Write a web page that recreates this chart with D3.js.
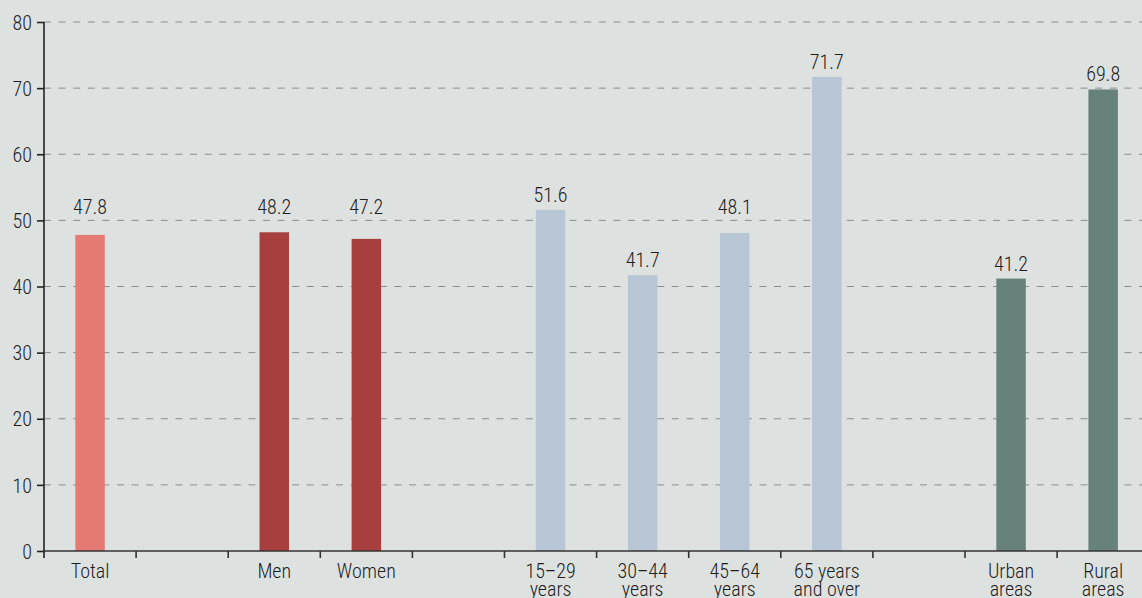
<!DOCTYPE html>
<html>
<head>
<meta charset="utf-8">
<script src="https://cdn.jsdelivr.net/npm/d3@7"></script>
<style>
  html, body { margin: 0; padding: 0; background: #dde1e0; }
  svg { display: block; }
  text { font-family: "Roboto Condensed", "Liberation Sans Narrow", "Arial Narrow", sans-serif; font-weight: 300; fill: #1e1e1e; }
</style>
</head>
<body>
<svg id="chart" width="1142" height="598"></svg>
<script>
// Slots along the x axis; empty strings are spacer slots between groups
const categories = ["Total", "", "Men", "Women", "", "15–29\nyears", "30–44\nyears", "45–64\nyears", "65 years\nand over", "", "Urban\nareas", "Rural\nareas"];
const values = [47.8, null, 48.2, 47.2, null, 51.6, 41.7, 48.1, 71.7, null, 41.2, 69.8];
const groups = ["total", null, "sex", "sex", null, "age", "age", "age", "age", null, "area", "area"];
const yTicks = [0, 10, 20, 30, 40, 50, 60, 70, 80];

const groupColor = { total: "#e57a73", sex: "#a83f3f", age: "#b8c5d5", area: "#67817b" };

const svg = d3.select("#chart");
const W = 1142;
const plotLeft = 44, plotTop = 22, plotBottom = 551;
const step = 92.1;
const fontSize = 20;

const x = d3.scaleBand()
  .domain(d3.range(categories.length))
  .range([plotLeft, plotLeft + step * categories.length])
  .paddingInner(0.68).paddingOuter(0.34);

const y = d3.scaleLinear().domain([0, 80]).range([plotBottom, plotTop]);

// dashed gridlines
svg.append("g").selectAll("line")
  .data(yTicks.filter(d => d > 0))
  .join("line")
  .attr("x1", plotLeft).attr("x2", W)
  .attr("y1", d => y(d)).attr("y2", d => y(d))
  .attr("stroke", "#8a8d8c").attr("stroke-width", 1)
  .attr("stroke-dasharray", "7,7.6");

// bars
const idx = d3.range(categories.length).filter(i => values[i] != null);
svg.append("g").selectAll("rect")
  .data(idx)
  .join("rect")
  .attr("x", i => x(i))
  .attr("width", x.bandwidth())
  .attr("y", i => y(values[i]))
  .attr("height", i => y(0) - y(values[i]))
  .attr("fill", i => groupColor[groups[i]]);

// value labels, lifted above any gridline they would otherwise cross
function labelBaseline(v) {
  let b = y(v) - 8;
  const topEdge = b - 15, botEdge = b + 2;
  for (const t of yTicks) {
    const gy = y(t);
    if (t > 0 && gy >= topEdge && gy <= botEdge) b = gy - 6;
  }
  return b;
}
svg.append("g").selectAll("text")
  .data(idx)
  .join("text")
  .attr("x", i => x(i) + x.bandwidth() / 2)
  .attr("y", i => labelBaseline(values[i]))
  .attr("text-anchor", "middle")
  .attr("font-size", fontSize)
  .text(i => values[i].toFixed(1));

// y axis
const yAxis = svg.append("g")
  .attr("transform", `translate(${plotLeft},0)`)
  .call(d3.axisLeft(y).tickValues(yTicks).tickSize(7).tickPadding(5).tickFormat(d3.format("d")));
yAxis.select(".domain").attr("d", `M0,${plotTop}V${plotBottom + 7}`).attr("stroke", "#222").attr("stroke-width", 1.6);
yAxis.selectAll(".tick line").attr("stroke", "#222").attr("stroke-width", 1.6);
yAxis.selectAll("text").attr("font-size", fontSize).attr("font-family", null).attr("dy", "0.36em").style("fill", "#1e1e1e");

// x axis: baseline plus separator ticks at slot boundaries
const xg = svg.append("g");
xg.append("line")
  .attr("x1", plotLeft).attr("x2", W)
  .attr("y1", plotBottom).attr("y2", plotBottom)
  .attr("stroke", "#333").attr("stroke-width", 1.6);
const bounds = d3.range(1, categories.length).map(i => x(i) - x.step() * x.paddingInner() / 2);
xg.selectAll("line.sep")
  .data(bounds)
  .join("line")
  .attr("class", "sep")
  .attr("x1", d => d).attr("x2", d => d)
  .attr("y1", plotBottom).attr("y2", plotBottom + 7)
  .attr("stroke", "#333").attr("stroke-width", 1.6);

// category labels (multi-line)
const catText = xg.selectAll("text.cat")
  .data(d3.range(categories.length).filter(i => categories[i]))
  .join("text")
  .attr("class", "cat")
  .attr("text-anchor", "middle")
  .attr("font-size", fontSize)
  .attr("x", i => x(i) + x.bandwidth() / 2)
  .attr("y", 578);
catText.selectAll("tspan")
  .data(i => categories[i].split("\n").map(s => ({ s, cx: x(i) + x.bandwidth() / 2 })))
  .join("tspan")
  .attr("x", d => d.cx)
  .attr("dy", (d, k) => k === 0 ? 0 : 18)
  .text(d => d.s);
</script>
</body>
</html>
